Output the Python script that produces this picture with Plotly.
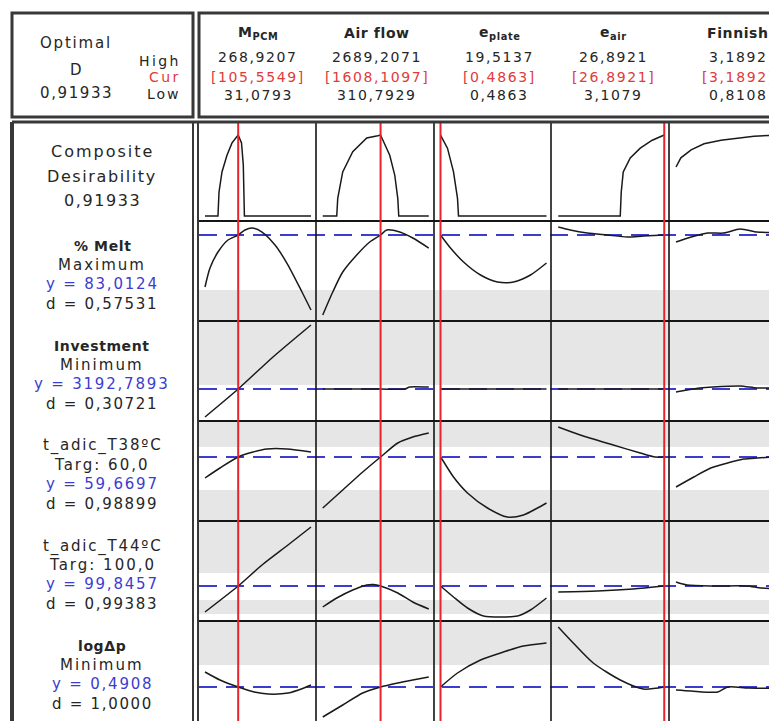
import plotly.graph_objects as go

W, H = 777, 721
OFF = 8  # the page body margin shifts the figure by this many pixels

# factors (columns)
factor_labels = ["M<sub>PCM</sub>", "Air flow", "e<sub>plate</sub>", "e<sub>air</sub>", "Finnish"]
factor_high = [268.9207, 2689.2071, 19.5137, 26.8921, 3.1892]
factor_cur = [105.5549, 1608.1097, 0.4863, 26.8921, 3.1892]
factor_low = [31.0793, 310.7929, 0.4863, 3.1079, 0.8108]

composite_d = 0.91933

# responses (rows below the composite row)
resp_names = ["% Melt", "Investment", "t_adic_T38ºC", "t_adic_T44ºC", "logΔp"]
resp_bold = [True, True, False, False, True]
resp_goal = ["Maximum", "Minimum", "Targ: 60,0", "Targ: 100,0", "Minimum"]
resp_y = [83.0124, 3192.7893, 59.6697, 99.8457, 0.4908]
resp_d = [0.57531, 0.30721, 0.98899, 0.99383, 1.0]
resp_d_dec = [5, 5, 5, 5, 4]

# curves: one x list and one y list per factor column
comp_x = [
    [31.08, 60.2, 62.5, 69.2, 80.4, 91.7, 105.55, 113.0, 117.0, 119.5, 268.92],
    [310.79, 625, 647, 759, 984, 1298, 1545, 1608.11, 1814, 1926, 1994, 2016, 2689.21],
    [0.4863, 1.74, 2.82, 3.54, 3.72, 19.5137],
    [3.1079, 17.02, 17.24, 17.69, 19.26, 21.51, 24.2, 26.8921],
    [0.8108, 0.92, 1.15, 1.44, 1.82, 2.20, 2.56, 2.92, 3.1892],
]
comp_y = [
    [0, 0, 0.27, 0.50, 0.69, 0.83, 0.919, 0.83, 0.58, 0, 0],
    [0, 0, 0.20, 0.50, 0.73, 0.885, 0.91, 0.919, 0.69, 0.465, 0.20, 0, 0],
    [0.919, 0.77, 0.50, 0.20, 0, 0],
    [0, 0, 0.27, 0.50, 0.66, 0.77, 0.86, 0.919],
    [0.556, 0.66, 0.75, 0.82, 0.86, 0.885, 0.905, 0.915, 0.919],
]

melt_x = [
    [31.08, 42.3, 60.2, 82.7, 105.55, 120.8, 136.5, 159.0, 188.2, 217.3, 248.7, 268.92],
    [310.79, 535, 759, 1073, 1365, 1608.11, 1747, 2039, 2331, 2689.21],
    [0.4863, 2.28, 4.62, 7.67, 10.72, 13.59, 16.64, 19.5137],
    [3.1079, 5.80, 9.62, 14.11, 18.6, 22.2, 26.8921],
    [0.8108, 1.15, 1.52, 1.88, 2.25, 2.63, 3.08, 3.1892],
]
melt_y = [
    [57.0, 66.5, 74.5, 80.5, 83.01, 85.5, 86.5, 84.5, 78.0, 68.0, 54.5, 45.5],
    [43.0, 54.5, 64.5, 73.0, 79.5, 83.01, 85.5, 84.5, 81.5, 76.5],
    [83.01, 76.5, 69.5, 63.0, 59.5, 59.5, 63.0, 69.0],
    [87.0, 85.5, 84.0, 83.0, 82.0, 82.5, 83.01],
    [79.5, 82.0, 84.0, 84.0, 86.0, 84.5, 84.0, 83.01],
]

inv_x = [
    [31.08, 105.55, 183.7, 268.92],
    [310.79, 1608.11, 2150, 2263, 2650, 2689.21],
    [0.4863, 19.5137],
    [3.1079, 26.8921],
    [0.8108, 1.06, 1.35, 1.64, 2.25, 2.63, 3.08, 3.1892],
]
inv_y = [
    [1792.8, 3192.79, 4792.8, 6392.8],
    [3192.79, 3192.79, 3192.79, 3292.8, 3292.8, 3292.8],
    [3192.79, 3192.79],
    [3192.79, 3192.79],
    [3042.8, 3142.8, 3242.8, 3292.8, 3342.8, 3242.8, 3242.8, 3192.79],
]

t38_x = [
    [31.08, 64.7, 105.55, 138.8, 170.2, 215.1, 268.92],
    [310.79, 759, 1208, 1608.11, 1994, 2331, 2689.21],
    [0.4863, 0.85, 2.82, 5.33, 8.92, 12.51, 15.38, 17.9, 19.5137],
    [3.1079, 8.04, 15.45, 21.51, 24.87, 26.8921],
    [0.8108, 1.21, 1.59, 1.97, 2.33, 2.63, 3.08, 3.1892],
]
t38_y = [
    [54.42, 56.92, 59.67, 60.92, 61.67, 61.67, 60.92],
    [46.92, 51.42, 55.92, 59.67, 63.17, 64.67, 65.67],
    [59.67, 58.92, 54.67, 50.67, 46.92, 44.67, 45.17, 46.92, 48.17],
    [67.17, 65.17, 62.67, 60.67, 59.67, 59.67],
    [52.17, 54.67, 56.92, 58.17, 59.17, 59.42, 59.67, 59.67],
]

t44_x = [
    [31.08, 105.55, 159.0, 217.3, 268.92],
    [310.79, 625, 984, 1298, 1450, 1608.11, 1994, 2331, 2689.21],
    [0.4863, 2.82, 5.33, 8.21, 14.3, 16.64, 19.5137],
    [3.1079, 11.86, 19.93, 26.8921],
    [0.8108, 1.06, 1.64, 2.40, 2.72, 3.08, 3.1892],
]
t44_y = [
    [86.85, 99.85, 110.35, 120.35, 129.35],
    [89.35, 93.85, 97.85, 100.35, 100.6, 99.85, 96.35, 91.85, 88.35],
    [99.85, 94.35, 88.85, 84.85, 84.85, 87.85, 93.85],
    [96.85, 97.35, 98.35, 99.85],
    [101.85, 100.35, 99.85, 99.85, 98.85, 98.85, 99.85],
]

dp_x = [
    [31.08, 64.7, 105.55, 141.5, 172.6, 217.8, 253.0, 268.92],
    [310.79, 759, 1208, 1608.11, 1994, 2331, 2689.21],
    [0.4863, 3.54, 7.67, 11.8, 15.38, 19.5137],
    [3.1079, 6.47, 10.96, 17.02, 22.18, 26.8921],
    [0.8108, 1.15, 1.75, 1.97, 2.43, 3.08, 3.1892],
]
dp_y = [
    [0.6408, 0.5608, 0.4908, 0.4408, 0.4208, 0.4308, 0.4808, 0.5108],
    [0.1908, 0.3108, 0.4308, 0.4908, 0.5308, 0.5608, 0.5908],
    [0.4908, 0.6308, 0.7608, 0.8408, 0.9008, 0.9308],
    [1.0908, 0.9308, 0.7308, 0.5608, 0.4708, 0.4908],
    [0.4608, 0.4508, 0.4408, 0.4908, 0.4808, 0.4808, 0.4908],
]

curves = [(comp_x, comp_y), (melt_x, melt_y), (inv_x, inv_y),
          (t38_x, t38_y), (t44_x, t44_y), (dp_x, dp_y)]

# layout geometry (page pixels) and value ranges of each row
row_px = [(122, 221), (221, 321), (321, 421), (421, 521), (521, 621), (621, 721)]
row_range = [(-0.057, 1.067), (40.01, 90.01), (1592.79, 6592.79),
             (43.67, 68.67), (82.35, 132.35), (0.1508, 1.1508)]
col_sep = [316, 434, 551, 669]
col_w = 117.75
data_w = 106
col_text_x = [258, 377, 500, 613, 738]
PAGE_R, PAGE_B = 790, 730

TXT = "#262626"
RED = "#e23a3a"
BLUE = "#3c3ccf"
FONT = "DejaVu Sans, Verdana, sans-serif"


def X(p):
    return (p - OFF) / W


def Y(p):
    return 1 - (p - OFF) / H


def fmt(v, n=4):
    return f"{v:.{n}f}".replace(".", ",")


def xr(j):
    return "x" if j == 0 else f"x{j + 1}"


def yr(i):
    return "y" if i == 0 else f"y{i + 1}"


fig = go.Figure()
layout = dict(
    width=W, height=H,
    margin=dict(l=0, r=0, t=0, b=0),
    paper_bgcolor="white",
    plot_bgcolor="rgba(0,0,0,0)",
    showlegend=False,
    font=dict(family=FONT, color=TXT),
)

# each factor axis spans its whole column; low..high sit inside with a small inset
for j in range(5):
    lo, hi = factor_low[j], factor_high[j]
    d0 = 205 + col_w * j          # page px of the low end
    a = 198 + col_w * j           # column left edge
    b = min(a + col_w, OFF + W)   # column right edge (clipped to the page)
    per_px = (hi - lo) / data_w
    name = "xaxis" if j == 0 else f"xaxis{j + 1}"
    layout[name] = dict(domain=[X(a), X(b)],
                        range=[lo + (a - d0) * per_px, lo + (b - d0) * per_px],
                        visible=False, fixedrange=True, anchor="y")

for i in range(6):
    top, bot = row_px[i]
    name = "yaxis" if i == 0 else f"yaxis{i + 1}"
    layout[name] = dict(domain=[max(Y(bot), 0), Y(top)], range=list(row_range[i]),
                        visible=False, fixedrange=True, anchor="x")

fig.update_layout(**layout)

for i, (cx, cy) in enumerate(curves):
    for j in range(5):
        fig.add_trace(go.Scatter(
            x=cx[j], y=cy[j], mode="lines",
            line=dict(color="#1a1a1a", width=1.5,
                      shape="linear" if i == 0 else "spline", smoothing=0.7),
            xaxis=xr(j), yaxis=yr(i), hoverinfo="skip",
        ))

shapes = []
# grey background bands
for a, b in [(290, 321), (321, 385), (421, 447), (490, 521), (521, 573), (600, 614), (621, 665)]:
    shapes.append(dict(type="rect", xref="paper", yref="paper", x0=X(199), x1=X(PAGE_R),
                       y0=Y(b), y1=Y(a), fillcolor="#e6e6e6", line=dict(width=0), layer="below"))

# dashed lines at the current predicted responses
for i, yv in enumerate(resp_y):
    shapes.append(dict(type="line", xref="paper", x0=X(199), x1=X(PAGE_R), yref=yr(i + 1), y0=yv, y1=yv,
                       line=dict(color=BLUE, width=2, dash="18px,9px"), layer="below"))

# grid lines
for top, bot in row_px[1:]:
    shapes.append(dict(type="line", xref="paper", yref="paper", x0=X(198), x1=X(PAGE_R),
                       y0=Y(top), y1=Y(top), line=dict(color="#151515", width=2)))
for c in col_sep:
    shapes.append(dict(type="line", xref="paper", yref="paper", x0=X(c), x1=X(c),
                       y0=Y(PAGE_B), y1=Y(122), line=dict(color="#151515", width=1.6)))

# red lines at current factor settings
for j, cur in enumerate(factor_cur):
    shapes.append(dict(type="line", xref=xr(j), x0=cur, x1=cur, yref="paper",
                       y0=Y(PAGE_B), y1=Y(122), line=dict(color="#e8232b", width=2)))

# frames
frame = dict(color="#383838", width=3)
shapes += [
    dict(type="rect", xref="paper", yref="paper", x0=X(12), x1=X(193), y0=Y(117), y1=Y(13), line=frame),
    dict(type="rect", xref="paper", yref="paper", x0=X(199), x1=X(PAGE_R + 20), y0=Y(117), y1=Y(13), line=frame),
    dict(type="line", xref="paper", yref="paper", x0=X(12), x1=X(PAGE_R), y0=Y(122), y1=Y(122), line=frame),
    dict(type="line", xref="paper", yref="paper", x0=X(12), x1=X(12), y0=Y(PAGE_B), y1=Y(122),
         line=dict(color="#383838", width=4)),
    dict(type="line", xref="paper", yref="paper", x0=X(193), x1=X(193), y0=Y(PAGE_B), y1=Y(122),
         line=dict(color="#383838", width=2)),
    dict(type="line", xref="paper", yref="paper", x0=X(198), x1=X(198), y0=Y(PAGE_B), y1=Y(122),
         line=dict(color="#383838", width=2)),
]
fig.update_layout(shapes=shapes)


def sp(text, ls):
    return f'<span style="letter-spacing:{ls}px">{text}</span>'


annotations = []


def ann(text, x, y, size=15, color=TXT, xanchor="center", ls=1.6, bold=False):
    t = f"<b>{text}</b>" if bold else text
    annotations.append(dict(
        text=sp(t, ls), x=X(x), y=Y(y), xref="paper", yref="paper",
        xanchor=xanchor, yanchor="middle", showarrow=False,
        font=dict(size=size, color=color, family=FONT),
    ))


# header left box
ann("Optimal", 76, 43, ls=1.8)
ann("D", 76, 70, ls=1.8)
ann(fmt(composite_d, 5), 76, 93, ls=1.6)
ann("High", 183, 61, size=14, xanchor="right", ls=2.4)
ann("Cur", 183, 77, size=14, xanchor="right", ls=2.4, color=RED)
ann("Low", 183, 94, size=14, xanchor="right", ls=2)

# header factor columns
for j in range(5):
    cx = col_text_x[j]
    ann(factor_labels[j], cx, 33, size=14, ls=0.6, bold=True)
    ann(fmt(factor_high[j]), cx, 57, size=14, ls=1.6)
    ann("[" + fmt(factor_cur[j]) + "]", cx, 77, size=14, ls=1.6, color=RED)
    ann(fmt(factor_low[j]), cx, 95, size=14, ls=1.6)

# left label panel
ann("Composite", 102, 151, size=16, ls=2)
ann("Desirability", 102, 176, size=16, ls=1.6)
ann(fmt(composite_d, 5), 102, 200, size=16, ls=1.6)
for i in range(5):
    top = row_px[i + 1][0]
    ann(resp_names[i], 102, top + 25, size=14 if resp_bold[i] else 15,
        ls=0.6 if resp_bold[i] else 1.8, bold=resp_bold[i])
    ann(resp_goal[i], 102, top + 44, ls=2)
    ann("y = " + fmt(resp_y[i]), 102, top + 63, ls=1.8, color=BLUE)
    ann("d = " + fmt(resp_d[i], resp_d_dec[i]), 102, top + 83, ls=1.7)

fig.update_layout(annotations=annotations)

fig.write_html("out.html")
